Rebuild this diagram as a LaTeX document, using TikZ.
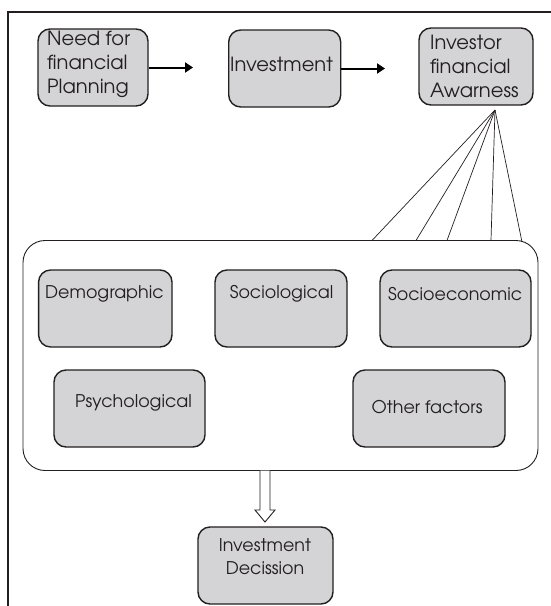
\documentclass[tikz,border=0pt]{standalone}
\usepackage{fontspec}
\setmainfont{texgyreadventor-regular.otf}
\usetikzlibrary{arrows.meta}
\definecolor{boxfill}{RGB}{212,212,214}
\definecolor{ink}{RGB}{35,31,32}
\begin{document}
\begin{tikzpicture}[x=1pt,y=-1pt,
  gbox/.style={draw=ink, fill=boxfill, line width=1.4pt, rounded corners=12pt, inner sep=0pt, minimum height=77pt},
  bigbox/.style={draw=ink, fill=white, line width=0.9pt, rounded corners=22pt, inner sep=0pt},
  txt/.style={inner sep=0pt, text=ink, align=left, font=\fontsize{19.5}{24}\selectfont},
  ftxt/.style={inner sep=0pt, text=ink, font=\fontsize{17.5}{20}\selectfont},
  dtxt/.style={inner sep=0pt, text=ink, align=center, font=\fontsize{17.5}{23}\selectfont},
  flow/.style={line width=2pt, draw=black, -{Triangle[length=8pt,width=10pt]}},
  fanline/.style={line width=0.7pt, draw=ink},
  hollow/.style={line width=0.9pt, draw=ink, fill=white},
  frame/.style={line width=2pt, draw=ink}]
\useasboundingbox (0,0) rectangle (551,606);
% frame
\draw[frame] (8,606) -- (8,12) -- (551,12);
% top row
\node[gbox, minimum width=110pt] (b1) at (93,67.5) {};
\node[gbox, minimum width=112pt] (b2) at (284.7,68.5) {};
\node[gbox, minimum width=114pt] (b3) at (476,66.5) {};
\node[txt, anchor=west] (t1) at (47,64) {Need for\\financial\\Planning};
\node[txt, anchor=west] (t2) at (230,64) {Investment};
\node[txt, anchor=west] (t3) at (430,66) {Investor\\financial\\Awarness};
\coordinate (a1) at (193,67.5);
\coordinate (a2) at (385,68.5);
\draw[flow] (b1.east) -- (a1);
\draw[flow] (b2.east) -- (a2);
% big box
\node[bigbox, minimum width=515pt, minimum height=230pt] (big) at (280.5,355.5) {};
% fan
\coordinate (fanpt) at (495,110);
\coordinate (f1) at (372,240.5);
\coordinate (f2) at (416,240.5);
\coordinate (f3) at (447,240.5);
\coordinate (f4) at (491,240.5);
\coordinate (f5) at (522,242);
\foreach \f in {f1,f2,f3,f4,f5} \draw[fanline] (fanpt) -- (\f);
% factor boxes
\node[gbox, minimum width=133.4pt] (demo) at (105.3,308.5) {};
\node[gbox, minimum width=132pt] (soci) at (281,308.5) {};
\node[gbox, minimum width=151pt] (seco) at (455.5,308.5) {};
\node[gbox, minimum width=151pt] (psyc) at (129.5,408.5) {};
\node[gbox, minimum width=152pt] (othr) at (429,408.5) {};
\node[ftxt, anchor=west] (tdemo) at (45,294) {Demographic};
\node[ftxt, anchor=west] (tsoci) at (229.6,294) {Sociological};
\node[ftxt, anchor=west] (tseco) at (388,294) {Socioeconomic};
\node[ftxt, anchor=west] (tpsyc) at (75,403) {Psychological};
\node[ftxt, anchor=west] (tothr) at (371.5,407) {Other factors};
% decision
\node[gbox, minimum width=135pt] (dec) at (265.5,565.5) {};
\node[dtxt] (tdec) at (265,556.5) {Investment\\Decission};
% hollow arrow
\coordinate (hs) at (265,470.5);
\draw[hollow] (hs) ++(-5,0) -- ++(0,39.5) -- ++(-5,0) -- ++(10,12) -- ++(10,-12) -- ++(-5,0) -- ++(0,-39.5);
\end{tikzpicture}
\end{document}
